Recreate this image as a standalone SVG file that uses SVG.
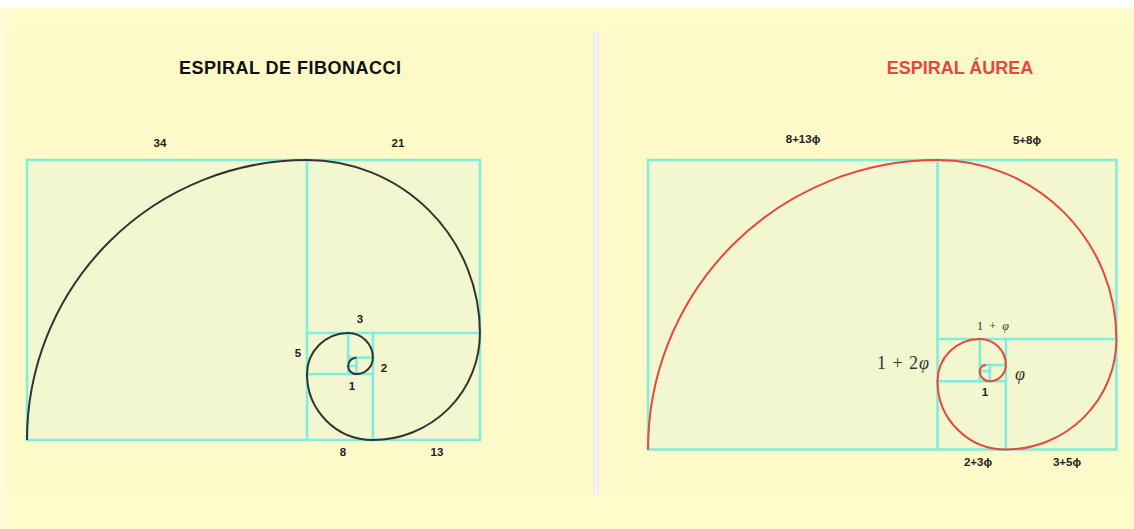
<svg xmlns="http://www.w3.org/2000/svg" width="1134" height="529" viewBox="0 0 1134 529">
<style>
.box{fill:#f3f7d0;stroke:none}
.grid{stroke:#7feedd;stroke-width:2.5;fill:none;stroke-linecap:square}
.sp1{fill:none;stroke:#333333;stroke-width:2}
.sp2{fill:none;stroke:#e8473b;stroke-width:2}
.lbl{font-family:"Liberation Sans",Arial,sans-serif;font-weight:bold;font-size:11.5px;fill:#222222;text-anchor:middle}
.math{font-family:"Liberation Serif","DejaVu Serif",serif;fill:#333333;text-anchor:middle}
.title{font-family:"Liberation Sans",Arial,sans-serif;font-weight:bold;font-size:18px;text-anchor:middle}
</style>
<rect x="0" y="0" width="1134" height="529" fill="#fdf9c9"/>
<rect x="0" y="0" width="1134" height="8" fill="#ffffff"/>
<rect x="0" y="8" width="6" height="521" fill="#fefbd6"/>
<rect x="6" y="8" width="1128" height="23" fill="#fffbca"/>
<rect x="6" y="495" width="1128" height="34" fill="#fffbcb"/>
<rect x="593" y="31" width="6" height="464" fill="#ededed"/>
<rect x="595" y="31" width="2" height="464" fill="#f6f6f6"/>

<g id="fibonacci">
<text class="title" x="290" y="74" fill="#111111" textLength="222">ESPIRAL DE FIBONACCI</text>
<rect class="box" x="27" y="160" width="452.94" height="280"/>
<g id="fib-grid" class="grid">
<rect x="27" y="160" width="452.94" height="280"/>
<line x1="307" y1="160" x2="307" y2="440"/>
<line x1="307" y1="332.94" x2="479.94" y2="332.94"/>
<line x1="372.88" y1="332.94" x2="372.88" y2="440"/>
<line x1="307" y1="374.12" x2="372.88" y2="374.12"/>
<line x1="348.18" y1="332.94" x2="348.18" y2="374.12"/>
<line x1="348.18" y1="357.65" x2="372.88" y2="357.65"/>
<line x1="356.41" y1="357.65" x2="356.41" y2="374.12"/>
<line x1="348.18" y1="365.88" x2="356.41" y2="365.88"/>
</g>
<path class="sp1" d="M27 440 A280 280 0 0 1 307 160 A172.94 172.94 0 0 1 479.94 332.94 A107.06 107.06 0 0 1 372.88 440 A65.88 65.88 0 0 1 307 374.12 A41.18 41.18 0 0 1 348.18 332.94 A24.71 24.71 0 0 1 372.88 357.65 A16.47 16.47 0 0 1 356.41 374.12 A8.24 8.24 0 0 1 348.18 365.88 A8.24 8.24 0 0 1 356.41 357.65"/>
<text class="lbl" x="160" y="147">34</text>
<text class="lbl" x="398" y="147">21</text>
<text class="lbl" x="360" y="323">3</text>
<text class="lbl" x="298" y="357">5</text>
<text class="lbl" x="384" y="372">2</text>
<text class="lbl" x="352" y="390">1</text>
<text class="lbl" x="343" y="456">8</text>
<text class="lbl" x="437" y="456">13</text>
</g>

<g id="aurea">
<text class="title" x="960" y="74" fill="#e8473b">ESPIRAL ÁUREA</text>
<rect class="box" x="648" y="160" width="468.42" height="289.5"/>
<g id="aurea-grid" class="grid">
<rect x="648" y="160" width="468.42" height="289.5"/>
<line x1="937.5" y1="160" x2="937.5" y2="449.5"/>
<line x1="937.5" y1="338.92" x2="1116.42" y2="338.92"/>
<line x1="1005.84" y1="338.92" x2="1005.84" y2="449.5"/>
<line x1="937.5" y1="381.16" x2="1005.84" y2="381.16"/>
<line x1="979.74" y1="338.92" x2="979.74" y2="381.16"/>
<line x1="979.74" y1="365.03" x2="1005.84" y2="365.03"/>
<line x1="989.71" y1="365.03" x2="989.71" y2="381.16"/>
<line x1="979.74" y1="371.19" x2="989.71" y2="371.19"/>
</g>
<path class="sp2" d="M648 449.5 A289.5 289.5 0 0 1 937.5 160 A178.92 178.92 0 0 1 1116.42 338.92 A110.58 110.58 0 0 1 1005.84 449.5 A68.34 68.34 0 0 1 937.5 381.16 A42.24 42.24 0 0 1 979.74 338.92 A26.1 26.1 0 0 1 1005.84 365.03 A16.13 16.13 0 0 1 989.71 381.16 A9.97 9.97 0 0 1 979.74 371.19 A6.16 6.16 0 0 1 985.9 365.03"/>
<text class="lbl" x="803" y="143">8+13ϕ</text>
<text class="lbl" x="1027" y="144">5+8ϕ</text>
<text class="math" x="993" y="330" font-size="12" textLength="32">1 + <tspan font-style="italic">φ</tspan></text>
<text class="math" x="903" y="369" font-size="18" textLength="52">1 + 2<tspan font-style="italic">φ</tspan></text>
<text class="math" x="1020" y="380" font-size="18" font-style="italic">φ</text>
<text class="lbl" x="985" y="396">1</text>
<text class="lbl" x="978" y="466">2+3ϕ</text>
<text class="lbl" x="1067" y="466">3+5ϕ</text>
</g>
</svg>
